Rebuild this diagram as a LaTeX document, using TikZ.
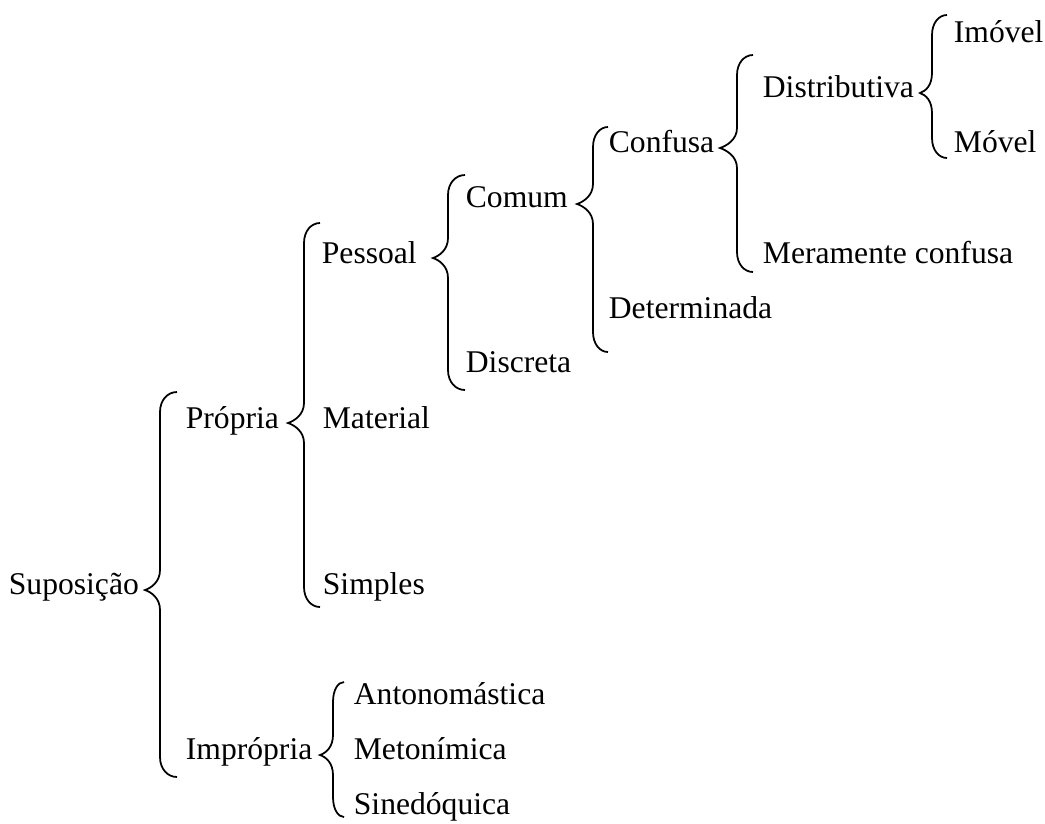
\documentclass[tikz,border=0pt]{standalone}
\usepackage{fontspec}
\setmainfont{Liberation Serif}

% curly brace: tip x, tip y, spine x, top y, bottom y, hook end x
\newcommand{\curly}[6]{%
  \draw ({#6},{#4}) .. controls ({#3+0.45*(#6-#3)},{#4}) and ({#3},{#4+8}) .. ({#3},{#4+20})
    -- ({#3},{#2-20}) .. controls ({#3},{#2-8}) and ({#1+6},{#2-2}) .. ({#1},{#2})
    .. controls ({#1+6},{#2+2}) and ({#3},{#2+8}) .. ({#3},{#2+20})
    -- ({#3},{#5-20}) .. controls ({#3},{#5-8}) and ({#3+0.45*(#6-#3)},{#5}) .. ({#6},{#5});}

\begin{document}
\begin{tikzpicture}[x=0.02cm,y=-0.02cm,line width=1pt,
    lbl/.style={anchor=west,inner sep=0pt,text height=0.66em,text depth=0pt,
      font=\fontsize{18}{20}\selectfont}]
  \useasboundingbox (0,0) rectangle (1045,823);
  % labels
  \node[lbl] (sup) at (8,589) {Suposição};
  \node[lbl] (prop) at (185,423) {Própria};
  \node[lbl] (impr) at (185,754) {Imprópria};
  \node[lbl] (pess) at (321,258) {Pessoal};
  \node[lbl] (mat) at (322,423) {Material};
  \node[lbl] (simp) at (322,589) {Simples};
  \node[lbl] (anto) at (353,699) {Antonomástica};
  \node[lbl] (meto) at (353,754) {Metonímica};
  \node[lbl] (sine) at (353,809) {Sinedóquica};
  \node[lbl] (com) at (465,202) {Comum};
  \node[lbl] (disc) at (465,367) {Discreta};
  \node[lbl] (conf) at (608,147) {Confusa};
  \node[lbl] (det) at (608,313) {Determinada};
  \node[lbl] (distr) at (762,92) {Distributiva};
  \node[lbl] (mera) at (762,258) {Meramente confusa};
  \node[lbl] (imov) at (953,37) {Imóvel};
  \node[lbl] (mov) at (953,147) {Móvel};
  % braces
  \curly{145}{590}{160}{392}{777}{177}
  \curly{288}{423}{304}{223}{607}{320}
  \curly{320}{755}{333}{682}{817}{344}
  \curly{433}{258}{448}{175}{390}{465}
  \curly{577}{204}{593}{127}{352}{608}
  \curly{720}{148}{737}{55}{272}{753}
  \curly{920}{93}{932}{15}{158}{947}
\end{tikzpicture}
\end{document}
